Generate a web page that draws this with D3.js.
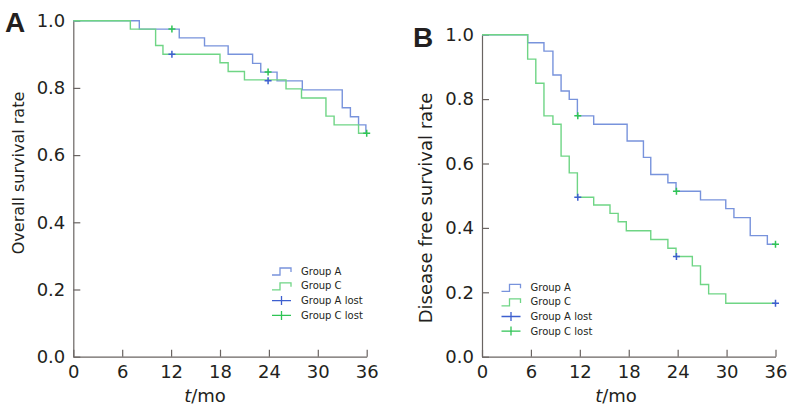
<!DOCTYPE html>
<html>
<head>
<meta charset="utf-8">
<script src="https://cdn.jsdelivr.net/npm/d3@7"></script>
<style>
  html, body { margin: 0; padding: 0; background: #fff; }
  svg { display: block; }
</style>
</head>
<body>
<svg id="chart" width="787" height="415"></svg>
<script>
// ---------- DATA ----------
const xTicks = [0, 6, 12, 18, 24, 30, 36];
const yTicks = [0, 0.2, 0.4, 0.6, 0.8, 1.0];
const legendLabels = ["Group A", "Group C", "Group A lost", "Group C lost"];

// Panel A: overall survival (step times in months, survival after step)
const osTimesA = [8.1, 13.0, 16.1, 19.0, 22.0, 23.0, 25.0, 28.1, 33.0, 34.0, 35.0, 35.9];
const osSurvA  = [0.975, 0.949, 0.925, 0.900, 0.873, 0.847, 0.821, 0.794, 0.741, 0.714, 0.690, 0.665];
const osTimesC = [7.0, 10.1, 11.0, 18.0, 19.0, 21.0, 26.1, 28.0, 31.0, 32.0, 35.0];
const osSurvC  = [0.975, 0.926, 0.900, 0.875, 0.849, 0.824, 0.797, 0.770, 0.716, 0.690, 0.665];
// censor marks as drawn (blue "+" = Group A lost, green "+" = Group C lost)
const osLostATimes = [12.1, 23.9];
const osLostAVals  = [0.900, 0.821];
const osLostCTimes = [12.1, 23.9, 36];
const osLostCVals  = [0.975, 0.847, 0.665];

// Panel B: disease free survival
const dfsTimesA = [5.6, 7.6, 8.7, 9.7, 10.7, 11.7, 13.7, 17.8, 19.8, 20.7, 22.8, 23.8, 26.8, 29.9, 30.9, 32.9, 35.0];
const dfsSurvA  = [0.975, 0.949, 0.875, 0.825, 0.799, 0.748, 0.722, 0.670, 0.619, 0.566, 0.540, 0.514, 0.487, 0.460, 0.432, 0.376, 0.349];
const dfsTimesC = [5.6, 6.6, 7.6, 8.7, 9.7, 10.7, 11.7, 13.7, 15.7, 16.7, 17.7, 20.7, 22.8, 23.8, 25.8, 26.8, 27.8, 29.9];
const dfsSurvC  = [0.924, 0.849, 0.748, 0.722, 0.623, 0.571, 0.495, 0.471, 0.445, 0.419, 0.391, 0.364, 0.337, 0.311, 0.282, 0.224, 0.195, 0.166];
const dfsLostATimes = [11.75, 23.85, 36];
const dfsLostAVals  = [0.495, 0.311, 0.166];
const dfsLostCTimes = [11.75, 23.85, 36];
const dfsLostCVals  = [0.748, 0.514, 0.349];

// ---------- STYLE ----------
const blue = "#7893dc", green = "#6fd585";
const blueMark = "#3d5fcf", greenMark = "#2fc455";
const axisColor = "#6a6462", textColor = "#231f20";
const font = "'DejaVu Sans', Verdana, sans-serif";

const svg = d3.select("#chart");

function panel(cfg) {
  const g = svg.append("g");
  const x = d3.scaleLinear().domain([0, 36]).range([cfg.x0, cfg.x1]);
  const y = d3.scaleLinear().domain([0, 1]).range([cfg.yBot, cfg.yTop]);

  const ax = g.append("g").attr("transform", `translate(0,${cfg.yBot})`)
    .call(d3.axisBottom(x).tickValues(xTicks).tickFormat(d3.format("d"))
      .tickSizeInner(-7).tickSizeOuter(0).tickPadding(9));
  const ay = g.append("g").attr("transform", `translate(${cfg.x0},0)`)
    .call(d3.axisLeft(y).tickValues(yTicks).tickFormat(d3.format(".1f"))
      .tickSizeInner(-7).tickSizeOuter(0).tickPadding(8));
  [ax, ay].forEach(a => {
    a.selectAll("path, line").attr("stroke", axisColor).attr("stroke-width", 1.2);
    a.selectAll("text").attr("fill", textColor).style("font-family", font).style("font-size", "18px");
  });

  const line = d3.line().x(d => x(d[0])).y(d => y(d[1])).curve(d3.curveStepAfter);
  function curve(times, surv, color) {
    const pts = [[0, 1]].concat(times.map((t, i) => [t, surv[i]]));
    pts.push([36, surv[surv.length - 1]]);
    g.append("path").attr("d", line(pts)).attr("fill", "none")
      .attr("stroke", color).attr("stroke-width", 1.4);
  }
  curve(cfg.tA, cfg.sA, blue);
  curve(cfg.tC, cfg.sC, green);

  function marks(times, vals, color) {
    times.forEach((t, i) => {
      const cx = x(t), cy = y(vals[i]);
      g.append("path").attr("d", `M${cx - 3.5},${cy}H${cx + 3.5}M${cx},${cy - 3.5}V${cy + 3.5}`)
        .attr("stroke", color).attr("stroke-width", 1.5).attr("fill", "none");
    });
  }
  marks(cfg.lAt, cfg.lAv, blueMark);
  marks(cfg.lCt, cfg.lCv, greenMark);

  // axis titles
  g.append("text").attr("transform", `translate(${cfg.ylx},${cfg.yly}) rotate(-90)`)
    .attr("text-anchor", "middle").attr("dominant-baseline", "central")
    .attr("fill", textColor).style("font-family", font).style("font-size", cfg.ylSize + "px")
    .text(cfg.ylabel);
  const xt = g.append("text").attr("x", cfg.xlx).attr("y", 401.5).attr("text-anchor", "middle")
    .attr("fill", textColor).style("font-family", font).style("font-size", "18px");
  xt.append("tspan").style("font-style", "italic").text("t");
  xt.append("tspan").text("/mo");

  // panel letter
  g.append("text").attr("x", cfg.lx).attr("y", cfg.ly).attr("fill", textColor)
    .style("font-family", "'Liberation Sans', Arial, sans-serif").style("font-weight", "bold")
    .style("font-size", "28px").text(cfg.letter);

  // legend
  const lg = g.append("g").attr("transform", `translate(${cfg.legX},${cfg.legY})`);
  const cols = [blue, green, blueMark, greenMark];
  legendLabels.forEach((lab, i) => {
    const ry = i * cfg.legStep;
    if (i < 2) {
      lg.append("path").attr("d", `M0,${ry + 4}H8V${ry - 3}H19V${ry + 1}`)
        .attr("fill", "none").attr("stroke", cols[i]).attr("stroke-width", 1.3);
    } else {
      lg.append("path").attr("d", `M0,${ry}H19M9.5,${ry - 4.5}V${ry + 4.5}`)
        .attr("fill", "none").attr("stroke", cols[i]).attr("stroke-width", 1.3);
    }
    lg.append("text").attr("x", 29).attr("y", ry).attr("dominant-baseline", "central")
      .attr("fill", textColor).style("font-family", font).style("font-size", "10px").text(lab);
  });
}

panel({
  x0: 73.3, x1: 366.7, yTop: 20.7, yBot: 356.7,
  tA: osTimesA, sA: osSurvA, tC: osTimesC, sC: osSurvC,
  lAt: osLostATimes, lAv: osLostAVals, lCt: osLostCTimes, lCv: osLostCVals,
  ylabel: "Overall survival rate", ylx: 18, yly: 173, ylSize: 16,
  xlx: 205, letter: "A", lx: 5, ly: 32,
  legX: 272, legY: 271, legStep: 14.8
});
panel({
  x0: 482, x1: 775.5, yTop: 34.7, yBot: 356.7,
  tA: dfsTimesA, sA: dfsSurvA, tC: dfsTimesC, sC: dfsSurvC,
  lAt: dfsLostATimes, lAv: dfsLostAVals, lCt: dfsLostCTimes, lCv: dfsLostCVals,
  ylabel: "Disease free survival rate", ylx: 425, yly: 208, ylSize: 18,
  xlx: 616, letter: "B", lx: 413, ly: 47,
  legX: 501.5, legY: 287.3, legStep: 14.6
});
</script>
</body>
</html>
